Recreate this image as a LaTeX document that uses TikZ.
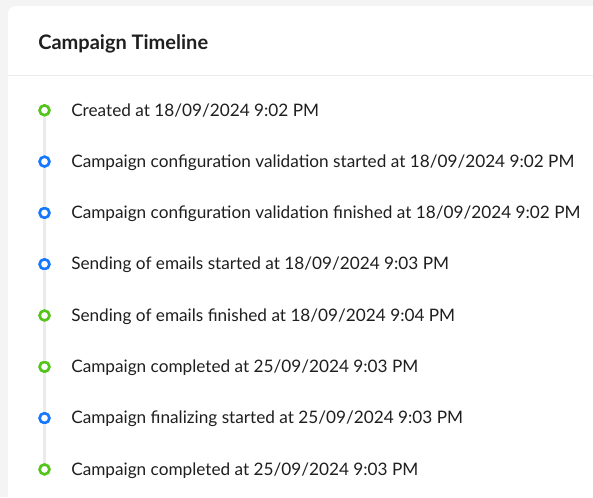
\documentclass[tikz,border=0pt]{standalone}
\usepackage{fontspec}
\setmainfont{Lato}
\usetikzlibrary{positioning}

\definecolor{pagebg}{HTML}{F4F4F4}
\definecolor{rulegray}{HTML}{EBEBEB}
\definecolor{textdark}{HTML}{1F1F1F}
\definecolor{okgreen}{HTML}{52C41A}
\definecolor{infoblue}{HTML}{1677FF}

\tikzset{
  dot/.style={circle,draw=#1,fill=white,line width=2pt,minimum size=7.4pt,inner sep=0pt},
  entry/.style={anchor=base west,inner sep=0pt,text=textdark,font=\fontsize{12.9}{15}\selectfont},
  rail/.style={draw=rulegray,line width=1.8pt}
}

\begin{document}
\begin{tikzpicture}[x=0.75pt,y=-0.75pt]

      % page background and the white card with a rounded corner
      \useasboundingbox (0,0) rectangle (593,497);
      \fill[pagebg] (0,0) rectangle (593,497);
      \fill[white,rounded corners=6pt] (8,6) rectangle (620,530);

      % card header, with the rule under it
      \node[anchor=base west,inner sep=0pt,text=textdark,font=\fontsize{15}{18}\selectfont\bfseries] (title) at (38,49) {Campaign Timeline};
      \draw[rulegray,line width=0.75pt] (8,75.5) -- (593,75.5);

      % timeline dots
      \node[dot=okgreen]  (d1) at (44.5,110.3) {};
      \node[dot=infoblue] (d2) at (44.5,161.6) {};
      \node[dot=infoblue] (d3) at (44.5,212.9) {};
      \node[dot=infoblue] (d4) at (44.5,264.2) {};
      \node[dot=okgreen]  (d5) at (44.5,315.5) {};
      \node[dot=okgreen]  (d6) at (44.5,366.8) {};
      \node[dot=infoblue] (d7) at (44.5,418.1) {};
      \node[dot=okgreen]  (d8) at (44.5,469.4) {};

      % rail between consecutive dots
      \draw[rail] (d1) -- (d2);
      \draw[rail] (d2) -- (d3);
      \draw[rail] (d3) -- (d4);
      \draw[rail] (d4) -- (d5);
      \draw[rail] (d5) -- (d6);
      \draw[rail] (d6) -- (d7);
      \draw[rail] (d7) -- (d8);

      % event texts, baseline a little under each dot centre
      \node[entry] (t1) at (71,116.0) {Created at 18/09/2024 9:02 PM};
      \node[entry] (t2) at (71,167.3) {Campaign configuration validation started at 18/09/2024 9:02 PM};
      \node[entry] (t3) at (71,218.6) {Campaign configuration validation finished at 18/09/2024 9:02 PM};
      \node[entry] (t4) at (71,269.9) {Sending of emails started at 18/09/2024 9:03 PM};
      \node[entry] (t5) at (71,321.2) {Sending of emails finished at 18/09/2024 9:04 PM};
      \node[entry] (t6) at (71,372.5) {Campaign completed at 25/09/2024 9:03 PM};
      \node[entry] (t7) at (71,423.8) {Campaign finalizing started at 25/09/2024 9:03 PM};
      \node[entry] (t8) at (71,475.1) {Campaign completed at 25/09/2024 9:03 PM};

    \end{tikzpicture}
\end{document}
